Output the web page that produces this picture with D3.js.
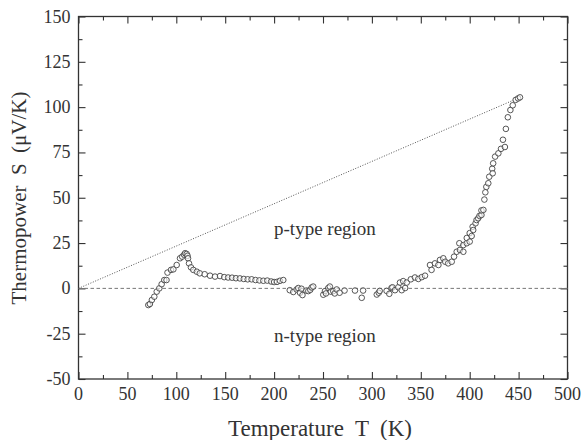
<!DOCTYPE html>
<html>
<head>
<meta charset="utf-8">
<script src="https://cdn.jsdelivr.net/npm/d3@7.9.0/dist/d3.min.js"></script>
<style>
  body { margin: 0; background: #fff; }
</style>
</head>
<body>
<svg id="chart" width="584" height="440"></svg>
<script>
// temperature (K) and thermopower (uV/K)
const tempK = [71.4, 73, 75, 77.5, 80, 82.6, 85, 87.7, 90, 91, 94.6, 97, 100.4, 103.8, 106, 108, 109, 110.6, 111.5, 112,
  113, 115, 117.4, 121, 124, 129, 134.5, 139.6, 144.7, 149, 153, 157, 161, 165, 169, 173, 177, 181, 185,
  189, 193, 197, 200, 203, 206, 209.4,
  216, 219.6, 223, 224.7, 226.5, 228, 229, 233, 235, 237, 238.4, 240,
  250.3, 252, 253, 255.4, 257, 258, 260.5, 262, 264, 267, 272, 282.7, 289.6, 291,
  305, 307, 308, 315, 317.8, 320, 321, 323.6, 327, 328.7, 330.5, 332, 334, 335.6, 339.8, 344, 347.5, 351, 354.3,
  359.4, 361, 364.5, 368, 369.6, 373, 375, 378, 381.6, 384, 386.7, 389.4, 390, 393.5, 393.5, 397, 397, 400, 400,
  402, 403, 403.6, 406, 407, 408.7, 410, 412, 412, 414, 415, 416, 417, 419, 420, 423, 423.5, 424, 426, 429.3,
  432, 434, 436, 437, 439, 441.6, 444, 447, 449.5, 451.4];
const seebeck = [-9.2, -8.6, -6.4, -4.6, -1.8, 0, 2.3, 4.6, 4.6, 8.7, 10.2, 10.5, 12.9, 16.6, 17.5, 18.6, 19.4, 19, 18, 16.6,
  13.8, 11.6, 10.2, 9.2, 8.3, 7.8, 7, 6.5, 6.8, 6.2, 6, 5.9, 5.6, 5.5, 5.2, 5, 5, 4.6, 4.4,
  4.2, 4.3, 3.8, 3.5, 3.6, 4.2, 4.6,
  -1, -2, -0.6, 0.2, -2.4, -0.2, -3.7, -1.2, -1.5, -0.8, 0.5, 1,
  -3.5, -1.5, -2.8, 0.2, 1, -1.8, -1.5, -2.8, -0.6, -2.4, -1.2, -1.2, -5.2, -1.2,
  -3.4, -2.4, -1.4, -1.4, -3, 0.2, 0.6, -1, 0.6, 3.2, -1, 4, 0.2, 3.2, 5, 6, 5.2, 6.2, 7,
  12.9, 10.2, 13.8, 12.9, 15.7, 16.6, 14.7, 13.8, 14.7, 17.5, 20.2, 24.9, 21.2, 20.2, 23.9, 24.9, 27.8, 25.8, 30.5,
  28.9, 34, 32.2, 35.9, 37.7, 38.7, 40, 40.5, 43, 43.3, 49, 53, 56, 58, 61.6, 66, 63.5, 69, 72.7, 74.5,
  77, 82, 78, 88, 94.4, 98.4, 101, 104, 104.8, 105.4];
const xMajor = [0, 50, 100, 150, 200, 250, 300, 350, 400, 450, 500];
const xMinor = [25, 75, 125, 175, 225, 275, 325, 375, 425, 475];
const yMajor = [-50, -25, 0, 25, 50, 75, 100, 125, 150];
const yMinor = [-37.5, -12.5, 12.5, 37.5, 62.5, 87.5, 112.5, 137.5];
const guideLine = [[0, 0], [451.4, 105.4]];

const W = 584, H = 440;
const m = { left: 78.5, right: 16.5, top: 16.5, bottom: 61 };
const svg = d3.select('#chart');
const x = d3.scaleLinear().domain([0, 500]).range([m.left, W - m.right]);
const y = d3.scaleLinear().domain([-50, 150]).range([H - m.bottom, m.top]);
const ink = '#333';
const serif = 'Liberation Serif';

function styleAxis(g) {
  g.select('.domain').remove();
  g.selectAll('line').attr('stroke', ink).attr('stroke-width', 1.1);
}

function label(sel) {
  return sel.attr('font-family', serif).attr('fill', ink);
}

// minor + major ticks on all four sides
[[xMinor, -4], [xMajor, -7]].forEach(([vals, len]) => {
  svg.append('g').attr('transform', `translate(0,${H - m.bottom})`)
    .call(d3.axisBottom(x).tickValues(vals).tickSize(len).tickFormat('')).call(styleAxis);
  svg.append('g').attr('transform', `translate(0,${m.top})`)
    .call(d3.axisTop(x).tickValues(vals).tickSize(len).tickFormat('')).call(styleAxis);
});
[[yMinor, -4], [yMajor, -7]].forEach(([vals, len]) => {
  svg.append('g').attr('transform', `translate(${m.left},0)`)
    .call(d3.axisLeft(y).tickValues(vals).tickSize(len).tickFormat('')).call(styleAxis);
  svg.append('g').attr('transform', `translate(${W - m.right},0)`)
    .call(d3.axisRight(y).tickValues(vals).tickSize(len).tickFormat('')).call(styleAxis);
});

svg.append('rect')
  .attr('x', m.left).attr('y', m.top)
  .attr('width', W - m.left - m.right).attr('height', H - m.top - m.bottom)
  .attr('fill', 'none').attr('stroke', ink).attr('stroke-width', 1.3);

// tick labels
svg.append('g').selectAll('text').data(xMajor).join('text')
  .attr('x', d => x(d)).attr('y', H - m.bottom + 21)
  .attr('text-anchor', 'middle').attr('font-size', 18).text(d => d).call(label);
svg.append('g').selectAll('text').data(yMajor).join('text')
  .attr('x', m.left - 8).attr('y', d => y(d) + 6)
  .attr('text-anchor', 'end').attr('font-size', 18).text(d => d).call(label);

// zero line and dotted guide
svg.append('line')
  .attr('x1', x(0)).attr('x2', x(500)).attr('y1', y(0)).attr('y2', y(0))
  .attr('stroke', '#777').attr('stroke-width', 1).attr('stroke-dasharray', '3.5,2.5');
svg.append('path')
  .attr('d', d3.line().x(d => x(d[0])).y(d => y(d[1]))(guideLine))
  .attr('fill', 'none').attr('stroke', '#555').attr('stroke-width', 1).attr('stroke-dasharray', '1,1.6');

// data
svg.append('g').selectAll('circle').data(tempK).join('circle')
  .attr('cx', d => x(d)).attr('cy', (d, i) => y(seebeck[i])).attr('r', 2.8)
  .attr('fill', '#fff').attr('fill-opacity', 0.6).attr('stroke', '#444').attr('stroke-width', 0.9);

// annotations
svg.append('text').attr('x', x(252)).attr('y', 235)
  .attr('text-anchor', 'middle').attr('font-size', 19).text('p-type region').call(label);
svg.append('text').attr('x', x(252)).attr('y', 342)
  .attr('text-anchor', 'middle').attr('font-size', 19).text('n-type region').call(label);

// axis titles
svg.append('text').attr('transform', `translate(26,198) rotate(-90)`)
  .attr('text-anchor', 'middle').attr('font-size', 21).attr('xml:space', 'preserve')
  .text('Thermopower  S  (\u03bcV/K)').call(label);
svg.append('text').attr('x', 320).attr('y', 436)
  .attr('text-anchor', 'middle').attr('font-size', 23).attr('xml:space', 'preserve')
  .text('Temperature  T  (K)').call(label);
</script>
</body>
</html>
